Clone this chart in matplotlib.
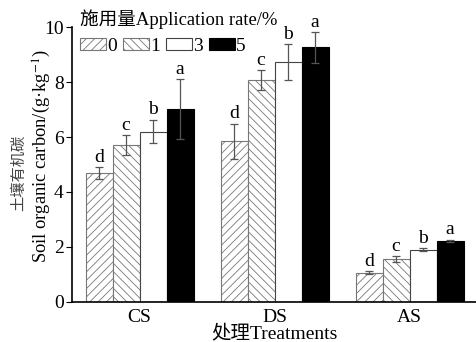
import matplotlib
matplotlib.use('Agg')
import matplotlib.pyplot as plt
import numpy as np

plt.rcParams['font.family'] = ['Liberation Serif', 'Noto Sans CJK SC']
plt.rcParams['mathtext.fontset'] = 'stix'
plt.rcParams['hatch.linewidth'] = 0.6

groups = ['CS', 'DS', 'AS']
rates = ['0', '1', '3', '5']
vals = {
    '0': [4.68, 5.84, 1.07],
    '1': [5.71, 8.07, 1.55],
    '3': [6.20, 8.72, 1.90],
    '5': [7.02, 9.26, 2.22],
}
errs = {
    '0': [0.22, 0.64, 0.05],
    '1': [0.35, 0.36, 0.11],
    '3': [0.43, 0.66, 0.06],
    '5': [1.08, 0.56, 0.05],
}
letters = ['d', 'c', 'b', 'a']

faces = ['white', 'white', 'white', 'black']
hatches = ['////', '\\\\\\\\', '', '']
edges = ['#777777', '#777777', '#444444', 'black']

fig = plt.figure(figsize=(4.77, 3.42), dpi=100)
ax = fig.add_axes([0.151, 0.117, 0.849, 0.804])

x = np.arange(len(groups))
w = 0.2
for i, r in enumerate(rates):
    pos = x + (i - 1.5) * w
    ax.bar(pos, vals[r], w, color=faces[i], edgecolor=edges[i], hatch=hatches[i],
           linewidth=0.8, label=r)
    ax.errorbar(pos, vals[r], yerr=errs[r], fmt='none', ecolor='#555555',
                elinewidth=0.9, capsize=3, capthick=0.9)
    for p, v, e in zip(pos, vals[r], errs[r]):
        ax.text(p, v + e + 0.05, letters[i], ha='center', va='bottom', fontsize=14)

ax.set_xlim(-0.5, 2.5)
ax.set_ylim(0, 10)
ax.set_xticks(x)
ax.set_xticklabels(groups, fontsize=14)
ax.tick_params(axis='x', length=0, pad=5)
ax.set_yticks([0, 2, 4, 6, 8, 10])
ax.tick_params(axis='y', labelsize=14, direction='out', length=4, width=0.8, pad=2)
ax.spines['top'].set_visible(False)
ax.spines['right'].set_visible(False)
ax.spines['left'].set_linewidth(1.2)
ax.spines['bottom'].set_linewidth(1.2)

ax.set_ylabel('Soil organic carbon/(g·kg$^{-1}$)', fontsize=13.3)
ax.yaxis.set_label_coords(-0.046, 0.53)
fig.text(19 / 477, 1 - 173 / 342, '土壤有机碳', rotation=90, ha='center', va='center',
         fontsize=11, color='#444444')
ax.set_xlabel('处理Treatments', fontsize=14, labelpad=-1)

leg = ax.legend(title='施用量Application rate/%', ncol=4, frameon=False,
                loc='upper left', bbox_to_anchor=(0.015, 1.07), fontsize=14,
                title_fontsize=13.4, handlelength=1.35, handleheight=0.6,
                handletextpad=0.05, columnspacing=0.3, borderpad=0.1,
                labelspacing=0.45, borderaxespad=0.0)
leg._legend_box.align = 'left'

fig.savefig('out.png', dpi=100)
